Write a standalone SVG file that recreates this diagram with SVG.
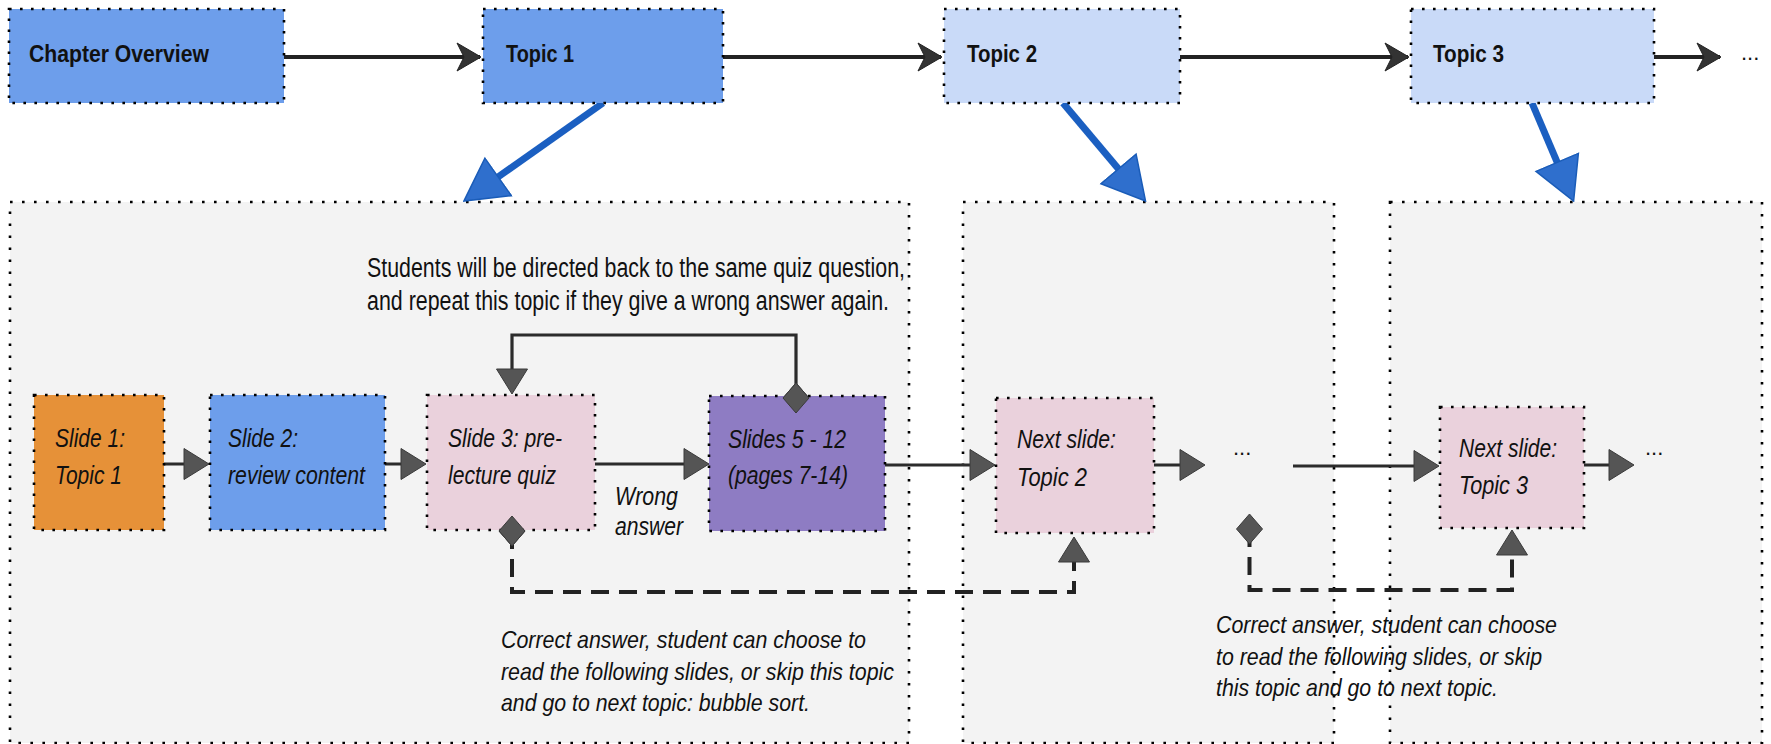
<svg xmlns="http://www.w3.org/2000/svg" width="1771" height="744" viewBox="0 0 1771 744">
  <style>
    .box { stroke: #000; stroke-width: 2.6; stroke-dasharray: 2.6 8.4; }
    .area { fill: #f3f3f3; stroke: #000; stroke-width: 2.6; stroke-dasharray: 2.6 9.4; }
    .b { font-family: "Liberation Sans", Arial, sans-serif; font-weight: bold; font-size: 24px; fill: #111; }
    .i { font-family: "Liberation Sans", Arial, sans-serif; font-style: italic; font-size: 26px; fill: #111; }
    .n { font-family: "Liberation Sans", Arial, sans-serif; font-size: 27px; fill: #111; }
    .c { font-family: "Liberation Sans", Arial, sans-serif; font-style: italic; font-size: 24px; fill: #111; }
    .dots { font-family: "Liberation Sans", Arial, sans-serif; font-size: 22px; fill: #111; }
    .flow { fill: none; stroke: #222; stroke-width: 4; }
    .step { fill: none; stroke: #2b2b2b; stroke-width: 3.2; }
    .dash { fill: none; stroke: #222; stroke-width: 4; stroke-dasharray: 18 10; }
    .blue { fill: none; stroke: #1b5fc1; stroke-width: 7; }
  </style>
  <defs>
    <marker id="classic" markerUnits="userSpaceOnUse" markerWidth="26" markerHeight="32" viewBox="0 0 26 32" refX="24" refY="16" orient="auto">
      <path d="M1,2 L25,16 L1,30 L8,16 Z" fill="#333" stroke="#222" stroke-width="1"/>
    </marker>
    <marker id="block" markerUnits="userSpaceOnUse" markerWidth="27" markerHeight="33" viewBox="0 0 27 33" refX="22" refY="16.5" orient="auto">
      <path d="M1,1 L26,16.5 L1,32 Z" fill="#555" stroke="#3a3a3a" stroke-width="1"/>
    </marker>
    <marker id="bigblock" markerUnits="userSpaceOnUse" markerWidth="44" markerHeight="50" viewBox="0 0 44 50" refX="22" refY="25" orient="auto">
      <path d="M1,2 L43,25 L1,48 Z" fill="#2f6fcd" stroke="#1a5cb8" stroke-width="1.5"/>
    </marker>
    <marker id="diamond" markerUnits="userSpaceOnUse" markerWidth="28" markerHeight="32" viewBox="0 0 28 32" refX="14" refY="16" orient="0">
      <path d="M14,1 L27,16 L14,31 L1,16 Z" fill="#555" stroke="#3a3a3a" stroke-width="1"/>
    </marker>
  </defs>

  <!-- topic areas -->
  <g id="area-topic1">
    <rect class="area" x="10" y="202" width="899" height="541"/>
  </g>
  <g id="area-topic2">
    <rect class="area" x="963" y="202" width="371" height="541"/>
  </g>
  <g id="area-topic3">
    <rect class="area" x="1390" y="202" width="372" height="541"/>
  </g>

  <!-- free labels -->
  <g id="note-repeat">
    <text class="n" x="367" y="277" textLength="538" lengthAdjust="spacingAndGlyphs">Students will be directed back to the same quiz question,</text>
    <text class="n" x="367" y="310" textLength="522" lengthAdjust="spacingAndGlyphs">and repeat this topic if they give a wrong answer again.</text>
  </g>
  <g id="note-wrong">
    <text class="i" x="615" y="505" textLength="63" lengthAdjust="spacingAndGlyphs">Wrong</text>
    <text class="i" x="615" y="535" textLength="68" lengthAdjust="spacingAndGlyphs">answer</text>
  </g>
  <g id="note-correct1">
    <text class="c" x="501" y="648" textLength="365" lengthAdjust="spacingAndGlyphs">Correct answer, student can choose to</text>
    <text class="c" x="501" y="680" textLength="393" lengthAdjust="spacingAndGlyphs">read the following slides, or skip this topic</text>
    <text class="c" x="501" y="711" textLength="309" lengthAdjust="spacingAndGlyphs">and go to next topic: bubble sort.</text>
  </g>
  <g id="note-correct2">
    <text class="c" x="1216" y="633" textLength="341" lengthAdjust="spacingAndGlyphs">Correct answer, student can choose</text>
    <text class="c" x="1216" y="665" textLength="326" lengthAdjust="spacingAndGlyphs">to read the following slides, or skip</text>
    <text class="c" x="1216" y="696" textLength="282" lengthAdjust="spacingAndGlyphs">this topic and go to next topic.</text>
  </g>
  <g id="ellipses">
    <text class="dots" x="1741" y="60">...</text>
    <text class="dots" x="1233" y="455">...</text>
    <text class="dots" x="1645" y="455">...</text>
  </g>

  <!-- connectors -->
  <g id="connectors">
    <path class="flow" d="M284,57 H480" marker-end="url(#classic)"/>
    <path class="flow" d="M723,57 H941" marker-end="url(#classic)"/>
    <path class="flow" d="M1180,57 H1408" marker-end="url(#classic)"/>
    <path class="flow" d="M1654,57 H1720" marker-end="url(#classic)"/>

    <path class="blue" d="M603,103 L481,189" marker-end="url(#bigblock)"/>
    <path class="blue" d="M1063,103 L1132,185" marker-end="url(#bigblock)"/>
    <path class="blue" d="M1532,103 L1565.4,181.7" marker-end="url(#bigblock)"/>

    <path class="step" d="M164,464 H205" marker-end="url(#block)"/>
    <path class="step" d="M385,464 H422" marker-end="url(#block)"/>
    <path class="step" d="M595,464 H705" marker-end="url(#block)"/>
    <path class="step" d="M885,465 H991" marker-end="url(#block)"/>
    <path class="step" d="M1154,465 H1201" marker-end="url(#block)"/>
    <path class="step" d="M1293,466 H1435" marker-end="url(#block)"/>
    <path class="step" d="M1584,465 H1630" marker-end="url(#block)"/>

    <path class="step" d="M796,398 V335 H512 V390" marker-start="url(#diamond)" marker-end="url(#block)"/>
    <path class="dash" d="M512,531 V592 H1074 V541" marker-start="url(#diamond)" marker-end="url(#block)"/>
    <path class="dash" d="M1249.5,529 V590 H1512 V534" marker-start="url(#diamond)" marker-end="url(#block)"/>
  </g>

  <!-- top row -->
  <g id="chapter-overview">
    <rect class="box" x="9" y="9" width="275" height="94" fill="#6d9eeb"/>
    <text class="b" x="29" y="62" textLength="180" lengthAdjust="spacingAndGlyphs">Chapter Overview</text>
  </g>
  <g id="topic-1">
    <rect class="box" x="483" y="9" width="240" height="94" fill="#6d9eeb"/>
    <text class="b" x="506" y="62" textLength="68" lengthAdjust="spacingAndGlyphs">Topic 1</text>
  </g>
  <g id="topic-2">
    <rect class="box" x="944" y="9" width="236" height="94" fill="#c9daf8"/>
    <text class="b" x="967" y="62" textLength="70" lengthAdjust="spacingAndGlyphs">Topic 2</text>
  </g>
  <g id="topic-3">
    <rect class="box" x="1411" y="9" width="243" height="94" fill="#c9daf8"/>
    <text class="b" x="1433" y="62" textLength="71" lengthAdjust="spacingAndGlyphs">Topic 3</text>
  </g>

  <!-- slides -->
  <g id="slide-1">
    <rect class="box" x="34" y="395" width="130" height="135" fill="#e69138"/>
    <text class="i" x="55" y="447" textLength="70" lengthAdjust="spacingAndGlyphs">Slide 1:</text>
    <text class="i" x="55" y="484" textLength="67" lengthAdjust="spacingAndGlyphs">Topic 1</text>
  </g>
  <g id="slide-2">
    <rect class="box" x="210" y="395" width="175" height="135" fill="#6d9eeb"/>
    <text class="i" x="228" y="447" textLength="70" lengthAdjust="spacingAndGlyphs">Slide 2:</text>
    <text class="i" x="228" y="484" textLength="137" lengthAdjust="spacingAndGlyphs">review content</text>
  </g>
  <g id="slide-3">
    <rect class="box" x="427" y="395" width="168" height="135" fill="#ead1dc"/>
    <text class="i" x="448" y="447" textLength="114" lengthAdjust="spacingAndGlyphs">Slide 3: pre-</text>
    <text class="i" x="448" y="484" textLength="108" lengthAdjust="spacingAndGlyphs">lecture quiz</text>
  </g>
  <g id="slides-5-12">
    <rect class="box" x="709" y="396" width="176" height="135" fill="#8e7cc3"/>
    <text class="i" x="728" y="448" textLength="118" lengthAdjust="spacingAndGlyphs">Slides 5 - 12</text>
    <text class="i" x="728" y="484" textLength="120" lengthAdjust="spacingAndGlyphs">(pages 7-14)</text>
  </g>
  <g id="next-slide-topic-2">
    <rect class="box" x="996" y="398" width="158" height="135" fill="#ead1dc"/>
    <text class="i" x="1017" y="448" textLength="99" lengthAdjust="spacingAndGlyphs">Next slide:</text>
    <text class="i" x="1017" y="486" textLength="70" lengthAdjust="spacingAndGlyphs">Topic 2</text>
  </g>
  <g id="next-slide-topic-3">
    <rect class="box" x="1440" y="407" width="144" height="121" fill="#ead1dc"/>
    <text class="i" x="1459" y="457" textLength="98" lengthAdjust="spacingAndGlyphs">Next slide:</text>
    <text class="i" x="1459" y="494" textLength="69" lengthAdjust="spacingAndGlyphs">Topic 3</text>
  </g>

  <!-- diamonds drawn above the slide borders -->
  <g id="branch-marks">
    <path d="M796,383 L809,398 L796,413 L783,398 Z" fill="#555" stroke="#3a3a3a" stroke-width="1"/>
    <path d="M512,516 L525,531 L512,546 L499,531 Z" fill="#555" stroke="#3a3a3a" stroke-width="1"/>
  </g>
</svg>
